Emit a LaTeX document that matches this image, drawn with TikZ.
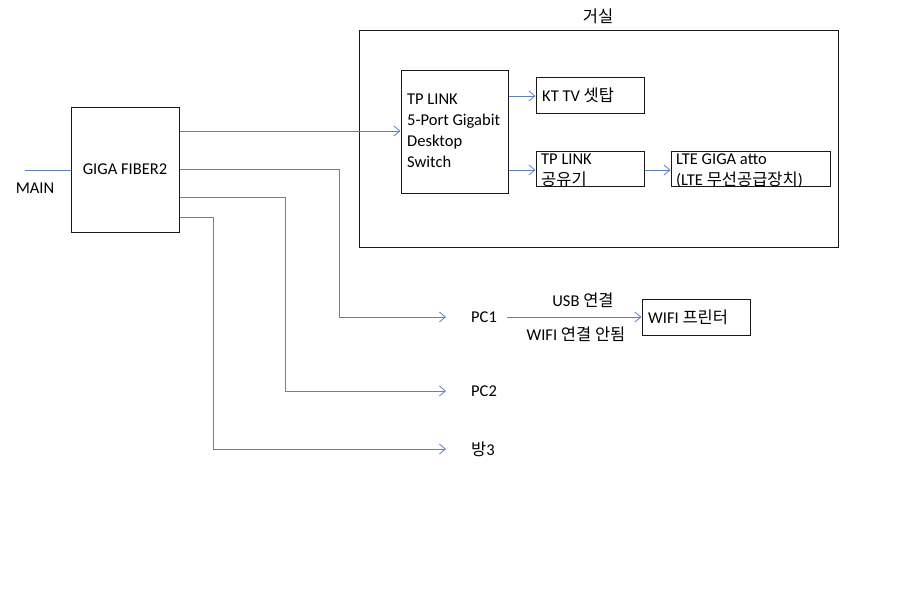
\documentclass[tikz,border=0pt]{standalone}
\usepackage{fontspec}
\setmainfont{Carlito}
\newfontfamily\krfont{Noto Sans CJK KR}[Scale=1.0]
\newcommand{\kr}[1]{{\krfont #1}}
\usetikzlibrary{arrows.meta}
\definecolor{lineblue}{HTML}{5B7FC8}
\tikzset{
  box/.style={draw=black!90, line width=1.0pt, rectangle, inner sep=0pt},
  arr/.style={draw=lineblue, line width=0.8pt, -{Straight Barb[length=6pt,width=10pt,line width=0.8pt]}},
  ln/.style={draw=lineblue, line width=0.8pt},
  lbl/.style={font=\fontsize{16.5}{20.5}\selectfont, inner sep=0pt},
}
\begin{document}
\begin{tikzpicture}[x=1pt,y=-1pt]
\useasboundingbox (0,0) rectangle (900,595);
% outer room box
\draw[box] (359,30) rectangle (838,247);
\node[lbl] (room) at (598,16) {\kr{거실}};
% GIGA FIBER2
\node[box, minimum width=108pt, minimum height=125pt, lbl] (fiber) at (125,169.5) {GIGA FIBER2};
\coordinate (mainstart) at (25,170);
\node[lbl] (main) at (35,188) {MAIN};
\draw[ln] (mainstart) -- (fiber.west |- 0,170);
% switch
\node[box, minimum width=107pt, minimum height=123pt] (switch) at (454.5,131.5) {};
\node[lbl, anchor=north west, align=left, font=\fontsize{16.5}{21}\selectfont] (switchtxt) at (407,94) {TP LINK\\5-Port Gigabit\\Desktop\\Switch};
% KT TV
\node[box, minimum width=108pt, minimum height=36pt] (kttv) at (590,95) {};
\node[lbl, anchor=west] (kttvtxt) at (542,95.5) {KT TV \kr{셋탑}};
% TP LINK router
\node[box, minimum width=108pt, minimum height=35pt] (router) at (590,169) {};
\node[lbl, anchor=north west, align=left] (routertxt) at (541,154) {TP LINK\\\kr{공유기}};
% LTE
\node[box, minimum width=159pt, minimum height=35pt] (lte) at (750.5,169) {};
\node[lbl, anchor=north west, align=left] (ltetxt) at (676,154) {LTE GIGA atto\\(LTE \kr{무선공급장치})};
% arrows inside
\draw[arr] (fiber.east |- 0,131) -- (switch.west |- 0,131);
\draw[arr] (switch.east |- 0,96) -- (kttv.west |- 0,96);
\draw[arr] (switch.east |- 0,170) -- (router.west |- 0,170);
\draw[arr] (router.east |- 0,170) -- (lte.west |- 0,170);
% PCs
\node[lbl, anchor=west] (pc1) at (471,317) {PC1};
\node[lbl, anchor=west] (pc2) at (471,391) {PC2};
\node[lbl, anchor=west] (room3) at (471,449) {\kr{방}3};
\draw[arr, shorten >=25pt] (fiber.east |- 0,169) -- (339,169) -- (339,317) -- (pc1.west);
\draw[arr, shorten >=25pt] (fiber.east |- 0,197) -- (285,197) -- (285,391) -- (pc2.west);
\draw[arr, shorten >=25pt] (fiber.east |- 0,217) -- (213,217) -- (213,449) -- (room3.west);
% printer
\node[box, minimum width=108pt, minimum height=36pt] (printer) at (696,317) {};
\node[lbl, anchor=west] (printertxt) at (648,317) {WIFI \kr{프린터}};
\draw[arr, shorten <=10pt] (pc1.east) -- (printer.west |- pc1.east);
\node[lbl] (usb) at (583,300) {USB \kr{연결}};
\node[lbl] (nowifi) at (576,334) {WIFI \kr{연결 안됨}};
\end{tikzpicture}
\end{document}
